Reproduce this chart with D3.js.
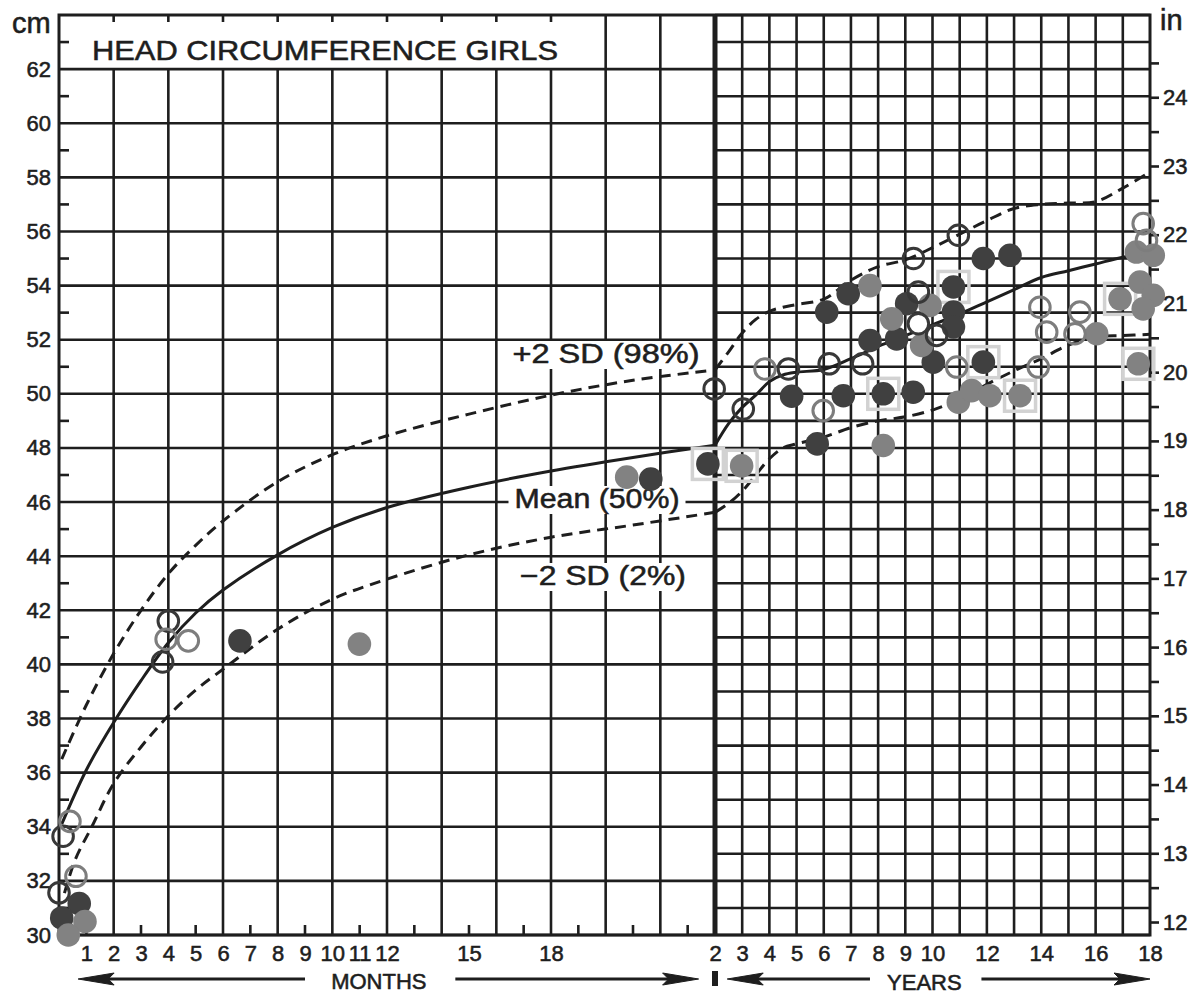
<!DOCTYPE html>
<html>
<head>
<meta charset="utf-8">
<script src="https://cdn.jsdelivr.net/npm/d3@7"></script>
<style>
  body { margin: 0; background: #fff; }
  text { font-family: "Liberation Sans", Arial, sans-serif; fill: #1e1e1e; stroke: #1e1e1e; stroke-width: 0.55px; }
</style>
</head>
<body>
<svg id="chart"></svg>
<script>
// reference curves, first two years (age in months)
const infantMonths = [0.1, 1, 2, 3, 4, 5, 6, 8, 10, 12, 15, 18, 21, 24];
const infantMean   = [34.1, 36.1, 37.85, 39.4, 40.8, 41.9, 42.75, 44.05, 45.06, 45.8, 46.55, 47.15, 47.65, 48.1];
const infantPlus2  = [36.5, 38.5, 40.4, 42.0, 43.35, 44.4, 45.3, 46.75, 47.75, 48.45, 49.25, 49.95, 50.5, 50.88];
const infantMinus2Months = [0.2, 0.6, 1.2, 2, 3, 4, 5, 6, 8, 10, 12, 15, 18, 21, 24];
const infantMinus2 = [31.55, 32.8, 34.0, 35.6, 36.95, 38.1, 39.05, 39.82, 41.3, 42.41, 43.15, 44.05, 44.7, 45.15, 45.62];

// reference curves, 2 to 18 years (age in years)
const childYears  = [2, 2.5, 3, 3.5, 4, 4.5, 5, 6, 7, 8, 9, 10, 11, 12, 13, 14, 15, 16, 17, 18];
const childMean   = [48.1, 48.9, 49.5, 49.95, 50.45, 50.7, 50.8, 50.9, 51.3, 51.75, 52.15, 52.55, 52.95, 53.4, 53.85, 54.3, 54.55, 54.8, 55.05, 55.2];
const childPlus2  = [50.88, 51.55, 52.25, 52.75, 53.05, 53.2, 53.3, 53.5, 54.2, 54.7, 54.95, 55.4, 55.9, 56.4, 56.85, 57.0, 57.05, 57.1, 57.6, 58.2];
const childMinus2 = [45.62, 45.95, 46.4, 47.0, 47.6, 48.0, 48.15, 48.4, 48.75, 49.0, 49.15, 49.4, 49.8, 50.35, 50.85, 51.3, 51.8, 52.1, 52.15, 52.2];

// measured patients: [age, cm, marker, boxed]
const infantPoints = [ // age in months
  [0.4, 34.2, "grayRing"],
  [0.15, 33.65, "darkRing"],
  [0.62, 32.17, "grayRing"],
  [0.0, 31.56, "darkRing"],
  [0.74, 31.16, "dark"],
  [0.1, 30.63, "dark"],
  [0.95, 30.5, "gray"],
  [0.34, 30.0, "gray"],
  [4.0, 41.6, "darkRing"],
  [3.92, 40.93, "grayRing"],
  [4.73, 40.87, "grayRing"],
  [3.79, 40.09, "darkRing"],
  [6.62, 40.87, "dark"],
  [10.99, 40.75, "gray"],
  [20.77, 46.92, "gray"],
  [21.65, 46.85, "dark"],
  [23.74, 47.41, "dark", true],
  [23.97, 50.18, "darkRing"]
];
const childPoints = [ // age in years
  [2.98, 47.34, "gray", true],
  [3.04, 49.44, "darkRing"],
  [3.84, 50.92, "grayRing"],
  [4.7, 50.92, "darkRing"],
  [4.82, 49.91, "dark"],
  [5.98, 49.38, "grayRing"],
  [5.76, 48.15, "dark"],
  [6.2, 51.11, "darkRing"],
  [6.72, 49.93, "dark"],
  [7.43, 51.11, "darkRing"],
  [6.11, 53.02, "dark"],
  [6.9, 53.7, "dark"],
  [7.7, 54.0, "gray"],
  [7.7, 51.97, "dark"],
  [8.5, 52.77, "gray"],
  [8.19, 50.0, "dark", true],
  [9.29, 50.06, "dark"],
  [8.19, 48.09, "gray"],
  [9.3, 55.0, "darkRing"],
  [9.05, 53.33, "dark"],
  [9.91, 53.27, "gray"],
  [9.48, 53.76, "darkRing"],
  [8.68, 52.03, "dark"],
  [9.6, 51.79, "gray"],
  [9.48, 52.59, "whiteRing"],
  [10.15, 52.16, "darkRing"],
  [10.03, 51.17, "dark"],
  [10.77, 53.95, "dark", true],
  [10.77, 53.02, "dark"],
  [10.77, 52.47, "dark"],
  [10.95, 55.86, "darkRing"],
  [11.87, 55.0, "dark"],
  [12.85, 55.12, "dark"],
  [10.89, 50.99, "grayRing"],
  [11.87, 51.17, "dark", true],
  [10.95, 49.69, "gray"],
  [11.44, 50.12, "gray"],
  [12.11, 49.93, "gray"],
  [13.22, 49.93, "gray", true],
  [13.89, 50.99, "grayRing"],
  [13.95, 53.2, "grayRing"],
  [14.2, 52.28, "grayRing"],
  [15.42, 53.02, "grayRing"],
  [15.24, 52.22, "grayRing"],
  [16.04, 52.22, "gray"],
  [16.9, 53.51, "gray", true],
  [17.63, 54.13, "gray"],
  [18.12, 53.64, "gray"],
  [17.75, 53.14, "gray"],
  [17.5, 55.24, "gray"],
  [18.12, 55.12, "gray"],
  [17.57, 51.11, "gray", true],
  [17.75, 56.29, "grayRing"],
  [17.87, 55.67, "grayRing"]
];

// tick labels
const monthTicks = [1, 2, 3, 4, 5, 6, 7, 8, 9, 10, 11, 12, 15, 18];
const yearTicks = [2, 3, 4, 5, 6, 7, 8, 9, 10, 12, 14, 16, 18];
const cmTicks = d3.range(30, 63, 2);
const inchTicks = d3.range(12, 24.6, 0.5);

const width = 1198, height = 996;
const ink = "#1e1e1e";

const svg = d3.select("#chart").attr("width", width).attr("height", height);
svg.append("rect").attr("width", width).attr("height", height).attr("fill", "#fff");

const y = d3.scaleLinear().domain([30, 64]).range([935, 15]);
const yIn = d3.scaleLinear().domain([30 / 2.54, 64 / 2.54]).range([935, 15]);
const xm = d3.scaleLinear().domain([0, 24]).range([59, 715]);
const xy = d3.scaleLinear().domain([2, 18]).range([715, 1150]);

const grid = svg.append("g").attr("stroke", ink).attr("stroke-width", 2.6).attr("fill", "none");

// left panel: 2 cm x 2 month grid, title box above 62 cm
cmTicks.forEach(c => grid.append("line")
  .attr("x1", xm(0)).attr("x2", xm(24)).attr("y1", y(c)).attr("y2", y(c)));
d3.range(2, 24, 2).forEach(m => grid.append("line")
  .attr("x1", xm(m)).attr("x2", xm(m)).attr("y1", y(30)).attr("y2", y(m >= 20 ? 64 : 62)));
d3.range(2, 20, 2).forEach(m => {
  grid.append("line").attr("x1", xm(m)).attr("x2", xm(m)).attr("y1", y(64)).attr("y2", y(64) + 7);
});
d3.range(1, 24, 2).forEach(m => grid.append("line")
  .attr("x1", xm(m)).attr("x2", xm(m)).attr("y1", y(30)).attr("y2", y(30) - 10));
d3.range(31, 64, 2).forEach(c => grid.append("line")
  .attr("x1", xm(0)).attr("x2", xm(0) + 10).attr("y1", y(c)).attr("y2", y(c)));

// right panel: 1 cm x 1 year grid
d3.range(30, 65, 1).forEach(c => grid.append("line")
  .attr("x1", xy(2)).attr("x2", xy(18)).attr("y1", y(c)).attr("y2", y(c)));
d3.range(3, 18, 1).forEach(a => grid.append("line")
  .attr("x1", xy(a)).attr("x2", xy(a)).attr("y1", y(30)).attr("y2", y(64)));

// frame and panel divider
grid.append("rect").attr("x", xm(0)).attr("y", y(64))
  .attr("width", xy(18) - xm(0)).attr("height", y(30) - y(64)).attr("stroke-width", 3);
grid.append("line").attr("x1", xy(2)).attr("x2", xy(2)).attr("y1", y(64)).attr("y2", y(30))
  .attr("stroke-width", 5);

// axes
const leftAxis = svg.append("g").attr("transform", `translate(${xm(0)},0)`)
  .call(d3.axisLeft(y).tickValues(cmTicks).tickSize(0).tickPadding(8).tickFormat(d3.format("d")));
const rightAxis = svg.append("g").attr("transform", `translate(${xy(18)},0)`)
  .call(d3.axisRight(yIn).tickValues(inchTicks).tickSize(9).tickPadding(4)
    .tickFormat(d => Number.isInteger(d) ? d : ""));
const monthAxis = svg.append("g").attr("transform", `translate(0,${y(30)})`)
  .call(d3.axisBottom(xm).tickValues(monthTicks).tickSize(0).tickPadding(10));
const yearAxis = svg.append("g").attr("transform", `translate(0,${y(30)})`)
  .call(d3.axisBottom(xy).tickValues(yearTicks).tickSize(0).tickPadding(10));

[leftAxis, rightAxis, monthAxis, yearAxis].forEach(g => {
  g.select(".domain").remove();
  g.selectAll(".tick line").attr("stroke", ink).attr("stroke-width", 2.6);
  g.selectAll(".tick text").attr("font-size", 22).attr("fill", ink)
    .attr("font-family", "'Liberation Sans', Arial, sans-serif");
});

svg.append("text").attr("x", 12).attr("y", 33).attr("font-size", 29).text("cm");
svg.append("text").attr("x", 1160).attr("y", 30).attr("font-size", 29).text("in");
svg.append("text").attr("x", 92).attr("y", 60).attr("font-size", 28)
  .attr("textLength", 466).attr("lengthAdjust", "spacingAndGlyphs")
  .text("HEAD CIRCUMFERENCE GIRLS");

// growth curves
const curveLine = d3.line().curve(d3.curveCatmullRom.alpha(0.5));
const curves = svg.append("g").attr("fill", "none").attr("stroke", ink).attr("stroke-width", 3);
function drawCurve(ages, values, xs, dash) {
  curves.append("path")
    .attr("d", curveLine(ages.map((a, i) => [xs(a), y(values[i])])))
    .attr("stroke-dasharray", dash);
}
drawCurve(infantMonths, infantMean, xm, null);
drawCurve(infantMonths, infantPlus2, xm, "11,7");
drawCurve(infantMinus2Months, infantMinus2, xm, "11,7");
drawCurve(childYears, childMean, xy, null);
drawCurve(childYears, childPlus2, xy, "12,7");
drawCurve(childYears, childMinus2, xy, "12,7");

// curve labels on white
const curveLabels = [
  {text: "+2 SD (98%)", x: 606, y: 363, w: 187},
  {text: "Mean (50%)", x: 597, y: 508, w: 165},
  {text: "\u22122 SD (2%)", x: 603, y: 585, w: 166}
];
curveLabels.forEach(l => {
  const g = svg.append("g");
  const bg = g.append("rect").attr("fill", "#fff");
  const t = g.append("text").attr("x", l.x).attr("y", l.y).attr("text-anchor", "middle")
    .attr("font-size", 27).attr("textLength", l.w).attr("lengthAdjust", "spacingAndGlyphs").text(l.text);
  const b = t.node().getBBox();
  bg.attr("x", b.x - 6).attr("y", b.y + 2).attr("width", b.width + 12).attr("height", b.height - 2);
});

// patients
const allPoints = infantPoints.map(p => ({x: xm(p[0]), y: y(p[1]), kind: p[2], boxed: !!p[3]}))
  .concat(childPoints.map(p => ({x: xy(p[0]), y: y(p[1]), kind: p[2], boxed: !!p[3]})));

const markers = svg.append("g");
markers.selectAll("rect.box").data(allPoints.filter(p => p.boxed)).join("rect")
  .attr("class", "box")
  .attr("x", d => d.x - 15.5).attr("y", d => d.y - 15.5)
  .attr("width", 31).attr("height", 31)
  .attr("fill", "none").attr("stroke", "#d2d2d2").attr("stroke-width", 3.5);

const style = {
  dark: {fill: "#404040", stroke: "none", r: 11.8},
  gray: {fill: "#828282", stroke: "none", r: 11.8},
  darkRing: {fill: "none", stroke: "#383838", r: 10.3},
  grayRing: {fill: "none", stroke: "#7d7d7d", r: 10.3},
  whiteRing: {fill: "#fff", stroke: "#383838", r: 10.3}
};
["dark", "gray", "darkRing", "grayRing", "whiteRing"].forEach(kind => {
  markers.append("g").selectAll("circle").data(allPoints.filter(p => p.kind === kind)).join("circle")
    .attr("cx", d => d.x).attr("cy", d => d.y).attr("r", style[kind].r)
    .attr("fill", style[kind].fill).attr("stroke", style[kind].stroke).attr("stroke-width", 3);
});

// age-band arrows under the axis
const arrowY = 979;
const arrows = svg.append("g").attr("stroke", ink).attr("stroke-width", 3).attr("fill", ink);
function arrow(from, to) {
  const dir = Math.sign(to - from);
  arrows.append("line").attr("x1", from).attr("x2", to - dir * 20).attr("y1", arrowY).attr("y2", arrowY);
  arrows.append("path").attr("stroke-width", 1)
    .attr("d", `M${to},${arrowY} L${to - dir * 36},${arrowY - 6} L${to - dir * 30},${arrowY} L${to - dir * 36},${arrowY + 6} Z`);
}
arrow(xm(9), xm(0.7));
arrow(xm(14.5), xm(23.4));
arrow(xy(7.7), xy(2.45));
arrow(xy(11.8), xy(18));
svg.append("rect").attr("x", xy(2) - 3).attr("y", 971).attr("width", 6).attr("height", 15).attr("fill", ink);
svg.append("text").attr("x", xm(11.7)).attr("y", 989).attr("text-anchor", "middle")
  .attr("font-size", 22).text("MONTHS");
svg.append("text").attr("x", xy(9.7)).attr("y", 990).attr("text-anchor", "middle")
  .attr("font-size", 22).text("YEARS");
</script>
</body>
</html>
